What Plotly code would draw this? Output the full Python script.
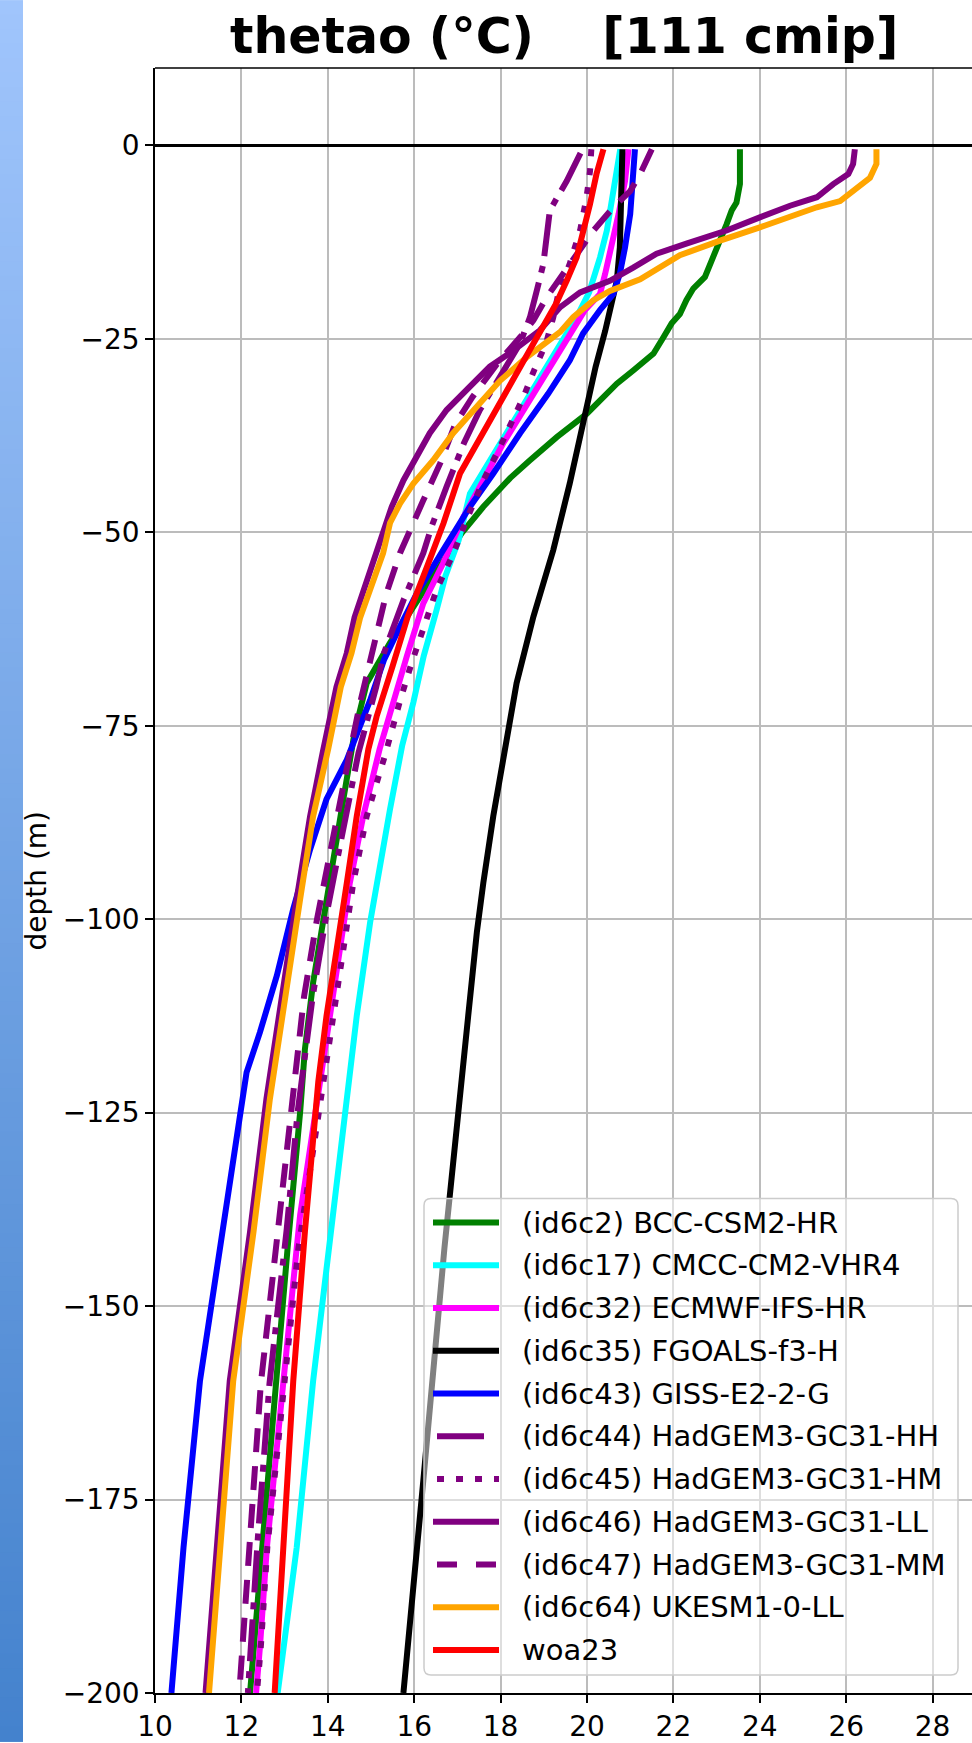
import plotly.graph_objects as go

# ---------------------------------------------------------------- data
# depth (m, positive down) and potential temperature (degC) per model

bcc_depth = [0.5, 5.0, 7.4, 8.4, 10.2, 12.3, 14.5, 17.0, 18.5, 20.0, 21.8, 23.0, 24.8, 26.9, 29.1, 30.8,
             34.7, 37.7, 40.7, 43.0, 46.7, 50.1, 55.7, 60.4, 64.3, 69.5, 75.9, 84.5, 93.1, 100.0, 108.2,
             116.8, 124.9, 133.9, 142.5, 164.0, 194.0, 200.0]
bcc_temp = [23.54, 23.54, 23.46, 23.35, 23.23, 23.08, 22.92, 22.73, 22.46, 22.30, 22.15, 21.96, 21.77, 21.54,
            21.07, 20.69, 19.99, 19.30, 18.68, 18.22, 17.60, 17.10, 16.44, 15.90, 15.44, 14.90, 14.62, 14.36,
            14.09, 13.90, 13.66, 13.47, 13.36, 13.20, 13.07, 12.74, 12.28, 12.20]

cmcc_depth = [0.5, 3.0, 7.0, 11.0, 14.5, 17.0, 19.0, 22.2, 26.5, 31.2, 36.4, 40.7, 45.0, 51.0, 55.7, 60.0,
              66.0, 72.0, 77.6, 85.8, 93.1, 100.4, 112.5, 123.2, 133.9, 142.5, 159.7, 181.2, 194.0, 200.0]
cmcc_temp = [20.77, 20.70, 20.60, 20.46, 20.30, 20.18, 20.05, 19.76, 19.30, 18.80, 18.25, 17.75, 17.29, 17.03,
             16.72, 16.52, 16.22, 15.98, 15.72, 15.44, 15.21, 14.98, 14.67, 14.44, 14.21, 14.00, 13.66, 13.28,
             12.97, 12.84]

ecmwf_depth = [0.5, 4.6, 8.9, 13.2, 16.6, 19.2, 21.3, 26.5, 32.9, 38.5, 43.3, 48.0, 54.0, 59.2, 66.0, 73.8,
               78.0, 86.7, 95.3, 103.9, 112.5, 121.0, 129.6, 138.2, 142.5, 159.7, 181.2, 194.0, 200.0]
ecmwf_temp = [20.96, 20.88, 20.73, 20.57, 20.42, 20.30, 19.95, 19.38, 18.68, 18.06, 17.60, 17.14, 16.67, 16.21,
              15.83, 15.44, 15.20, 14.82, 14.51, 14.28, 14.05, 13.82, 13.59, 13.36, 13.28, 12.97, 12.59, 12.43,
              12.34]

fgoals_depth = [0.5, 6.7, 13.2, 17.5, 20.5, 24.0, 28.6, 35.9, 43.7, 52.3, 60.9, 69.5, 78.0, 86.7, 95.3, 101.7,
                112.5, 123.2, 131.8, 142.5, 172.6, 192.0, 200.0]
fgoals_temp = [20.82, 20.80, 20.76, 20.69, 20.57, 20.42, 20.20, 19.91, 19.60, 19.22, 18.76, 18.37, 18.10, 17.83,
               17.60, 17.45, 17.25, 17.06, 16.91, 16.70, 16.21, 15.88, 15.75]

giss_depth = [0.5, 4.6, 8.9, 13.2, 16.6, 19.2, 21.3, 24.3, 27.8, 32.1, 37.2, 42.4, 46.7, 52.3, 57.9, 62.2,
              66.5, 71.7, 75.9, 79.4, 84.5, 91.0, 98.7, 107.3, 114.6, 119.8, 125.3, 133.9, 142.5, 159.7, 181.2,
              194.0, 200.0]
giss_temp = [21.11, 21.07, 21.00, 20.88, 20.76, 20.61, 20.30, 19.91, 19.60, 19.10, 18.45, 17.83, 17.29, 16.67,
             16.06, 15.67, 15.30, 14.98, 14.67, 14.44, 13.97, 13.59, 13.20, 12.82, 12.43, 12.12, 11.97, 11.74,
             11.50, 11.04, 10.66, 10.46, 10.38]

hh_depth = [1.0, 4.6, 8.4, 12.0, 15.3, 18.5, 22.2, 25.6, 29.9, 34.2, 38.5, 41.1, 44.1, 49.3, 52.7, 58.8, 65.6,
            70.0, 78.5, 90.0, 100.0, 110.0, 125.0, 140.0, 160.0, 180.0, 200.0]
hh_temp = [19.85, 19.53, 19.14, 19.05, 18.99, 18.85, 18.68, 18.45, 17.99, 17.52, 17.15, 16.98, 16.75, 16.40,
           16.21, 15.75, 15.30, 15.12, 14.71, 14.30, 13.95, 13.65, 13.30, 13.05, 12.65, 12.38, 12.15]

hm_depth = [0.5, 3.3, 6.7, 11.0, 15.3, 18.8, 22.2, 25.6, 29.0, 32.5, 38.1, 43.3, 48.4, 52.7, 57.4, 62.2, 66.9,
            71.8, 76.6, 78.9, 86.7, 95.3, 103.9, 112.5, 121.0, 130.0, 142.5, 159.7, 181.2, 194.0, 200.0]
hm_temp = [20.10, 20.07, 19.99, 19.84, 19.60, 19.35, 19.22, 19.05, 18.78, 18.53, 18.06, 17.60, 17.21, 16.91,
           16.52, 16.21, 15.94, 15.67, 15.44, 15.32, 14.90, 14.59, 14.36, 14.13, 13.90, 13.65, 13.32, 13.00,
           12.60, 12.45, 12.36]

ll_depth = [0.5, 2.4, 3.7, 5.0, 6.7, 7.8, 9.3, 11.0, 12.7, 14.0, 15.8, 17.5, 19.0, 20.9, 23.9, 26.5, 28.6,
            31.2, 34.2, 37.2, 40.3, 43.3, 46.7, 49.7, 52.7, 57.0, 61.0, 65.6, 70.0, 78.5, 86.7, 97.4, 106.0,
            114.6, 123.2, 131.8, 140.4, 159.7, 181.2, 194.0, 200.0]
ll_temp = [26.20, 26.16, 26.05, 25.70, 25.32, 24.70, 24.00, 23.23, 22.30, 21.61, 21.07, 20.53, 19.84, 19.38,
           18.91, 18.30, 17.75, 17.29, 16.75, 16.36, 16.06, 15.75, 15.48, 15.30, 15.09, 14.85, 14.62, 14.44,
           14.20, 13.88, 13.59, 13.28, 13.05, 12.81, 12.58, 12.39, 12.20, 11.73, 11.42, 11.27, 11.17]

mm_depth = [0.5, 3.7, 5.9, 8.0, 11.0, 14.0, 17.0, 19.6, 22.6, 24.8, 28.0, 32.5, 36.0, 41.1, 46.0, 52.7, 58.0,
            65.6, 72.0, 78.5, 90.0, 100.0, 110.0, 125.0, 140.0, 160.0, 180.0, 200.0]
mm_temp = [21.50, 21.23, 21.00, 20.61, 20.15, 19.76, 19.38, 19.07, 18.76, 18.45, 17.95, 17.35, 16.95, 16.60,
           16.20, 15.67, 15.35, 15.02, 14.75, 14.51, 14.10, 13.75, 13.45, 13.15, 12.88, 12.45, 12.20, 11.95]

ukesm_depth = [0.5, 2.4, 4.2, 7.2, 8.0, 9.3, 10.6, 12.3, 14.2, 17.3, 18.8, 20.0, 22.2, 24.1, 27.4, 30.4, 33.8,
               37.2, 40.7, 43.7, 46.3, 48.8, 52.7, 57.0, 61.0, 65.6, 70.0, 78.0, 86.7, 97.4, 106.0, 114.6,
               123.2, 131.8, 140.4, 159.7, 181.2, 194.0, 200.0]
ukesm_temp = [26.70, 26.70, 26.55, 25.86, 25.32, 24.70, 24.00, 23.08, 22.15, 21.23, 20.53, 20.15, 19.68, 19.38,
              18.60, 17.99, 17.45, 16.90, 16.44, 15.98, 15.67, 15.44, 15.28, 15.00, 14.75, 14.55, 14.30, 14.01,
              13.66, 13.36, 13.13, 12.89, 12.66, 12.47, 12.28, 11.81, 11.50, 11.35, 11.25]

woa_depth = [0.5, 3.7, 7.6, 11.0, 14.5, 17.5, 20.5, 25.6, 30.8, 36.4, 42.4, 48.8, 54.4, 60.9, 67.3, 73.8, 78.0,
             86.7, 95.3, 103.9, 112.5, 121.0, 129.6, 140.4, 159.7, 181.2, 194.0, 200.0]
woa_temp = [20.38, 20.22, 20.07, 19.91, 19.76, 19.53, 19.28, 18.76, 18.22, 17.67, 17.06, 16.68, 16.30, 15.85,
            15.50, 15.13, 14.94, 14.67, 14.44, 14.21, 13.97, 13.78, 13.63, 13.47, 13.20, 12.97, 12.85, 12.77]

labels = ["(id6c2) BCC-CSM2-HR", "(id6c17) CMCC-CM2-VHR4", "(id6c32) ECMWF-IFS-HR", "(id6c35) FGOALS-f3-H",
          "(id6c43) GISS-E2-2-G", "(id6c44) HadGEM3-GC31-HH", "(id6c45) HadGEM3-GC31-HM",
          "(id6c46) HadGEM3-GC31-LL", "(id6c47) HadGEM3-GC31-MM", "(id6c64) UKESM1-0-LL", "woa23"]
depths = [bcc_depth, cmcc_depth, ecmwf_depth, fgoals_depth, giss_depth, hh_depth, hm_depth, ll_depth,
          mm_depth, ukesm_depth, woa_depth]
temps = [bcc_temp, cmcc_temp, ecmwf_temp, fgoals_temp, giss_temp, hh_temp, hm_temp, ll_temp, mm_temp,
         ukesm_temp, woa_temp]

x_ticks = [10, 12, 14, 16, 18, 20, 22, 24, 26, 28]
y_ticks = [0, -25, -50, -75, -100, -125, -150, -175, -200]

# ---------------------------------------------------------------- styles
colors = ["green", "cyan", "magenta", "black", "blue", "purple", "purple", "purple", "purple", "orange", "red"]
DASHED = "24px,14px"
DASHDOT = "42px,10px,7px,10px"
DOTTED = "7px,12px"
dashes = ["solid", "solid", "solid", "solid", "solid", DASHDOT, DOTTED, "solid", DASHED, "solid", "solid"]
# legend handles are short, so the patterns are shown with their own phase
legend_dashes = ["solid", "solid", "solid", "solid", "solid", "47px,30px", "7px,12px", "solid",
                 "20px,19px", "solid", "solid"]
LW = 6
FONT = "DejaVu Sans"

W, H = 972, 1743
PL, PR, PT, PB = 155, 972, 68, 1695     # plot-area edges in pixels


def px(x, y):
    """pixel position -> paper coordinates"""
    return (x - PL) / (PR - PL), (PB - y) / (PB - PT)


fig = go.Figure()

for name, d, t, c, dash in zip(labels, depths, temps, colors, dashes):
    fig.add_trace(go.Scatter(
        x=t, y=[-v for v in d], mode="lines", name=name,
        line=dict(color=c, width=LW, dash=dash),
        showlegend=False, hoverinfo="skip"))

shapes = []
annotations = []

# blue gradient strip on the left edge
n_bands = 120
c_top = (160, 197, 252)
c_bot = (68, 130, 205)
for i in range(n_bands):
    f = (i + 0.5) / n_bands
    col = tuple(round(c_top[k] + (c_bot[k] - c_top[k]) * f) for k in range(3))
    x0, y0 = px(0, H * i / n_bands)
    x1, y1 = px(23, H * (i + 1) / n_bands + 1)
    shapes.append(dict(type="rect", xref="paper", yref="paper", x0=x0, x1=x1, y0=y0, y1=y1,
                       fillcolor="rgb(%d,%d,%d)" % col, line=dict(width=0), layer="above"))

# top frame line
shapes.append(dict(type="line", xref="paper", yref="paper", x0=0, x1=1, y0=1, y1=1,
                   line=dict(color="black", width=1.5), layer="above"))

# legend box with rounded corners
lx0, lx1, ly0, ly1, r = 424, 958, 1200, 1677, 7
(ax0, ay0), (ax1, ay1) = px(lx0, ly0), px(lx1, ly1)
rx, ry = r / (PR - PL), r / (PB - PT)
path = (f"M {ax0 + rx},{ay0} L {ax1 - rx},{ay0} Q {ax1},{ay0} {ax1},{ay0 - ry} "
        f"L {ax1},{ay1 + ry} Q {ax1},{ay1} {ax1 - rx},{ay1} L {ax0 + rx},{ay1} "
        f"Q {ax0},{ay1} {ax0},{ay1 + ry} L {ax0},{ay0 - ry} Q {ax0},{ay0} {ax0 + rx},{ay0} Z")
shapes.append(dict(type="path", xref="paper", yref="paper", path=path,
                   fillcolor="rgba(255,255,255,0.5)", line=dict(color="#cccccc", width=1.5),
                   layer="above"))

row0, row_h = 1224, 42.8
for i, (name, c, dash) in enumerate(zip(labels, colors, legend_dashes)):
    yy = row0 + i * row_h
    start = 433 if dash == "solid" else 437
    hx0, hy = px(start, yy)
    hx1, _ = px(499, yy)
    shapes.append(dict(type="line", xref="paper", yref="paper", x0=hx0, x1=hx1, y0=hy, y1=hy,
                       line=dict(color=c, width=LW, dash=dash), layer="above"))
    tx, ty = px(520, yy)
    annotations.append(dict(xref="paper", yref="paper", x=tx, y=ty, text=name, showarrow=False,
                            xanchor="left", yanchor="middle",
                            font=dict(family=FONT, size=29, color="black")))

# title
tx, ty = px(563.5, 36.4)
annotations.append(dict(xref="paper", yref="paper", x=tx, y=ty, showarrow=False,
                        text="<b>thetao (°C)\u00a0\u00a0\u00a0\u00a0[111 cmip]</b>",
                        xanchor="center", yanchor="middle",
                        font=dict(family=FONT, size=49, color="black")))

# y-axis title, centred on the plot area
tx, ty = px(36, (PT + PB) / 2)
annotations.append(dict(xref="paper", yref="paper", x=tx, y=ty, showarrow=False, text="depth (m)",
                        textangle=-90, xanchor="center", yanchor="middle",
                        font=dict(family=FONT, size=28, color="black")))

fig.update_layout(
    width=W, height=H,
    margin=dict(l=PL, r=W - PR, t=PT, b=H - PB, pad=0),
    paper_bgcolor="white", plot_bgcolor="white",
    showlegend=False,
    shapes=shapes, annotations=annotations,
    font=dict(family=FONT, color="black"),
)
fig.update_xaxes(
    range=[10, 10 + (PR - PL) / 43.2], tickvals=x_ticks, ticktext=[str(v) for v in x_ticks],
    ticks="outside", ticklen=8, tickwidth=1.5, tickcolor="black",
    tickfont=dict(family=FONT, size=28, color="black"),
    showgrid=True, gridcolor="#bcbcbc", gridwidth=1.8,
    showline=True, linecolor="black", linewidth=1.5, mirror=False, zeroline=False,
)
fig.update_yaxes(
    range=[-200, 10], tickvals=y_ticks,
    ticks="outside", ticklen=8, tickwidth=1.5, tickcolor="black",
    tickfont=dict(family=FONT, size=28, color="black"),
    showgrid=True, gridcolor="#bcbcbc", gridwidth=1.8,
    showline=True, linecolor="black", linewidth=1.5, mirror=False,
    zeroline=True, zerolinecolor="black", zerolinewidth=3,
)

fig.write_html("out.html")
